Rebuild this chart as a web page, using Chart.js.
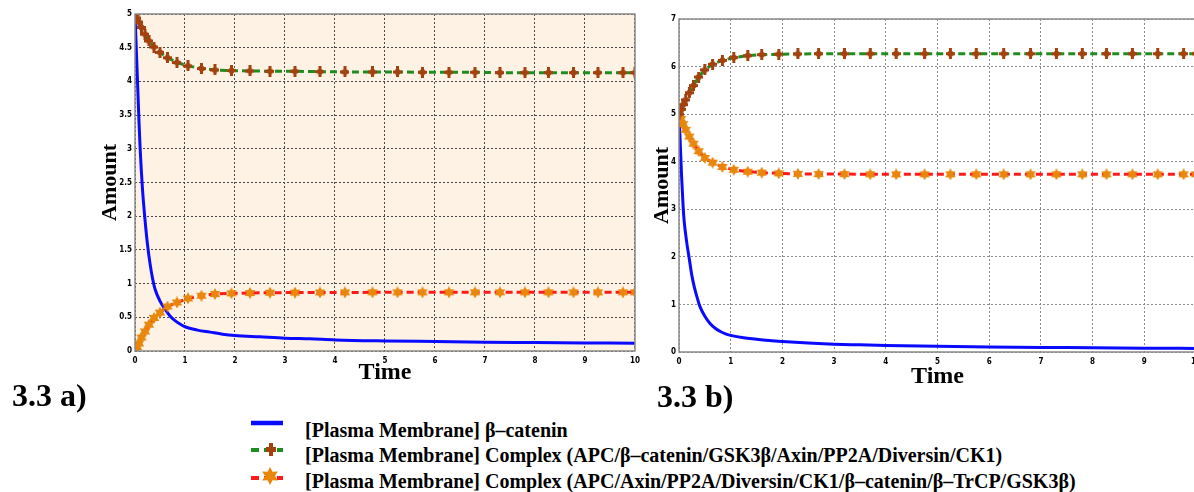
<!DOCTYPE html>
<html>
<head>
<meta charset="utf-8">
<script src="https://cdn.jsdelivr.net/npm/chart.js@4"></script>
<style>
  html, body { margin: 0; padding: 0; background: #fff; overflow: hidden; width: 1194px; height: 492px; }
  #wrapA { position: absolute; left: 0; top: 0; }
  #wrapB { position: absolute; left: 620px; top: 0; }
  .fig { position: absolute; font: bold 32px 'Liberation Serif', 'Times New Roman', serif; line-height: 32px; color: #000; white-space: nowrap; }
  .leg { position: absolute; left: 305px; font: bold 20px 'Liberation Serif', 'Times New Roman', serif; line-height: 25.5px; white-space: nowrap; color: #000; }
  #legSym { position: absolute; left: 245px; top: 410px; }
</style>
</head>
<body>
<div id="wrapA"><canvas id="chartA" width="645" height="400"></canvas></div>
<div id="wrapB"><canvas id="chartB" width="590" height="400"></canvas></div>

<div class="fig" style="left:12px; top:379px;">3.3 a)</div>
<div class="fig" style="left:657px; top:380px;">3.3 b)</div>

<svg id="legSym" width="45" height="80">
  <line x1="6" y1="13" x2="38" y2="13" stroke="#0A0AFF" stroke-width="4.5"/>
  <line x1="6" y1="40" x2="38" y2="40" stroke="#1E8C1E" stroke-width="4" stroke-dasharray="8 5"/>
  <rect x="24" y="33" width="4" height="13" fill="#A3420F"/>
  <rect x="21" y="37" width="10" height="5" fill="#A3420F"/>
  <line x1="6" y1="68" x2="38" y2="68" stroke="#FF1A1A" stroke-width="4" stroke-dasharray="8 5"/>
  <polygon points="25,57 27.5,61.7 32.8,61.5 30,66 32.8,70.5 27.5,70.3 25,75 22.5,70.3 17.2,70.5 20,66 17.2,61.5 22.5,61.7" fill="#E8870B"/>
</svg>

<div class="leg" style="top:417.5px;">[Plasma Membrane] β–catenin</div>
<div class="leg" style="top:443px;">[Plasma Membrane] Complex (APC/β–catenin/GSK3β/Axin/PP2A/Diversin/CK1)</div>
<div class="leg" style="top:468.5px;">[Plasma Membrane] Complex (APC/Axin/PP2A/Diversin/CK1/β–catenin/β–TrCP/GSK3β)</div>

<script>
// solver time points (markers) and dense time points (blue curve)
const tMark = [0, 0.04, 0.08, 0.13, 0.2, 0.28, 0.38, 0.5, 0.65, 0.84, 1.06, 1.33, 1.6, 1.93, 2.3, 2.7,
  3.2, 3.7, 4.2, 4.75, 5.25, 5.75, 6.28, 6.8, 7.3, 7.8, 8.27, 8.77, 9.26, 9.76, 10];
const tLine = [0, 0.02, 0.05, 0.08, 0.1, 0.15, 0.2, 0.25, 0.3, 0.35, 0.4, 0.5, 0.6, 0.7, 0.8, 0.9, 1,
  1.25, 1.5, 1.75, 2, 2.5, 3, 3.5, 4, 5, 6, 7, 8, 9, 10];

// 3.3 a)
const betaA = [5, 4.6, 4.0, 3.4, 3.05, 2.4, 1.95, 1.58, 1.3, 1.08, 0.92, 0.74, 0.62, 0.52, 0.45, 0.4, 0.36,
  0.31, 0.28, 0.25, 0.23, 0.21, 0.19, 0.18, 0.165, 0.15, 0.14, 0.13, 0.125, 0.12, 0.115];
const cplx1A = [5, 4.94, 4.88, 4.8, 4.7, 4.6, 4.51, 4.43, 4.35, 4.28, 4.23, 4.19, 4.17, 4.16, 4.155, 4.15,
  4.15, 4.145, 4.14, 4.14, 4.14, 4.135, 4.135, 4.135, 4.13, 4.13, 4.13, 4.13, 4.13, 4.13, 4.13];
const cplx2A = [0, 0.06, 0.11, 0.2, 0.29, 0.39, 0.49, 0.57, 0.66, 0.72, 0.78, 0.82, 0.845, 0.855, 0.86, 0.865,
  0.867, 0.868, 0.869, 0.87, 0.87, 0.87, 0.87, 0.87, 0.87, 0.87, 0.87, 0.87, 0.87, 0.87, 0.87];

// 3.3 b)
const betaB = [4.9, 4.5, 3.7, 3.05, 2.75, 2.3, 1.95, 1.6, 1.35, 1.15, 0.97, 0.75, 0.6, 0.5, 0.43, 0.38, 0.35,
  0.3, 0.27, 0.24, 0.22, 0.19, 0.165, 0.15, 0.135, 0.12, 0.105, 0.095, 0.09, 0.08, 0.075];
const cplx1B = [5, 5.1, 5.2, 5.3, 5.45, 5.6, 5.78, 5.93, 6.05, 6.13, 6.19, 6.23, 6.25, 6.26, 6.265, 6.27,
  6.27, 6.27, 6.27, 6.27, 6.27, 6.27, 6.27, 6.27, 6.27, 6.27, 6.27, 6.27, 6.27, 6.27, 6.27];
const cplx2B = [5, 4.9, 4.79, 4.67, 4.53, 4.38, 4.22, 4.08, 3.98, 3.89, 3.83, 3.79, 3.77, 3.755, 3.745, 3.74,
  3.74, 3.735, 3.735, 3.735, 3.735, 3.735, 3.735, 3.735, 3.735, 3.735, 3.735, 3.735, 3.735, 3.735, 3.735];

const xTicksA = [0, 10, 1];
const yTicksA = [0, 5, 0.5];
const xTicksB = [0, 10, 1];
const yTicksB = [0, 7, 1];

const pts = (xs, ys) => xs.map((x, i) => ({ x: x, y: ys[i] }));

function plusMarker() {
  const c = document.createElement('canvas');
  c.width = 9; c.height = 11;
  const g = c.getContext('2d');
  g.fillStyle = '#A3420F';
  g.fillRect(3, 0, 3, 11);
  g.fillRect(0, 4, 9, 3);
  g.beginPath(); g.arc(4.5, 5.5, 3, 0, Math.PI * 2); g.fill();
  return c;
}
function starMarker() {
  const c = document.createElement('canvas');
  c.width = 12; c.height = 12;
  const g = c.getContext('2d');
  g.fillStyle = '#E8870B';
  g.beginPath();
  for (let i = 0; i < 12; i++) {
    const r = i % 2 ? 3.4 : 6;
    const a = -Math.PI / 2 + i * Math.PI / 6;
    g.lineTo(6 + r * Math.cos(a), 6 + r * Math.sin(a));
  }
  g.closePath(); g.fill();
  return c;
}
const plusImg = plusMarker();
const starImg = starMarker();

// chart area background + frame
const framePlugin = {
  id: 'frame',
  beforeDraw(chart, args, opts) {
    const a = chart.chartArea, g = chart.ctx;
    if (opts.bg) { g.save(); g.fillStyle = opts.bg; g.fillRect(a.left, a.top, a.right - a.left, a.bottom - a.top); g.restore(); }
  },
  afterDatasetsDraw(chart, args, opts) {
    const a = chart.chartArea, g = chart.ctx;
    g.save();
    g.strokeStyle = opts.color; g.lineWidth = 1.5;
    g.strokeRect(a.left, a.top, a.right - a.left, a.bottom - a.top);
    g.restore();
  }
};

const tickFont = { family: "'Liberation Sans Narrow', 'DejaVu Sans Condensed', Arial, sans-serif", size: 8, weight: 'bold' };
const timeFont = { family: "'Liberation Serif', 'Times New Roman', serif", size: 24, weight: 'bold' };
const amountFont = { family: "'Liberation Serif', 'Times New Roman', serif", size: 22, weight: 'bold' };

function makeChart(id, beta, c1, c2, xt, yt, o) {
  return new Chart(document.getElementById(id), {
    type: 'scatter',
    data: {
      datasets: [
        { label: '[Plasma Membrane] Complex (APC/β–catenin/GSK3β/Axin/PP2A/Diversin/CK1)', data: pts(tMark, c1), showLine: true,
          borderColor: '#1E8C1E', borderWidth: 3, borderDash: [7, 4], pointStyle: plusImg, pointRadius: 5 },
        { label: '[Plasma Membrane] Complex (APC/Axin/PP2A/Diversin/CK1/β–catenin/β–TrCP/GSK3β)', data: pts(tMark, c2), showLine: true,
          borderColor: '#FF1A1A', borderWidth: 3, borderDash: [7, 4], pointStyle: starImg, pointRadius: 6 },
        { label: '[Plasma Membrane] β–catenin', data: pts(tLine, beta), showLine: true,
          borderColor: '#0A0AFF', borderWidth: 3, pointRadius: 0, cubicInterpolationMode: 'monotone' }
      ]
    },
    options: {
      responsive: false,
      animation: false,
      devicePixelRatio: 1,
      layout: { padding: o.pad },
      plugins: { legend: { display: false }, tooltip: { enabled: false }, frame: { bg: o.bg, color: '#8a8a8a' } },
      scales: {
        x: {
          type: 'linear', min: xt[0], max: xt[1],
          ticks: { stepSize: xt[2], color: '#000', font: tickFont, padding: 5, maxRotation: 0, callback: v => String(v) },
          grid: { color: o.grid, drawTicks: false },
          border: { display: false, dash: [2, 2] },
          title: { display: true, text: 'Time', color: '#000', font: timeFont, padding: { top: 0, bottom: 4 } },
          afterFit: s => { s.height = o.xh; }
        },
        y: {
          type: 'linear', min: yt[0], max: yt[1],
          ticks: { stepSize: yt[2], color: '#000', font: tickFont, padding: 3, callback: v => String(v) },
          grid: { color: o.grid, drawTicks: false },
          border: { display: false, dash: [2, 2] },
          title: { display: true, text: 'Amount', color: '#000', font: amountFont, padding: { top: 4, bottom: 0 } },
          afterFit: s => { s.width = o.yw; }
        }
      }
    },
    plugins: [framePlugin]
  });
}

makeChart('chartA', betaA, cplx1A, cplx2A, xTicksA, yTicksA,
  { pad: { left: 93, right: 8, top: 14, bottom: 8.6 }, xh: 40.4, yw: 42, bg: '#FDF2E4', grid: '#4a4a4a' });
makeChart('chartB', betaB, cplx1B, cplx2B, xTicksB, yTicksB,
  { pad: { left: 25, right: 14, top: 19, bottom: 4.6 }, xh: 43.4, yw: 34, bg: null, grid: '#8a8a8a' });
</script>
</body>
</html>
